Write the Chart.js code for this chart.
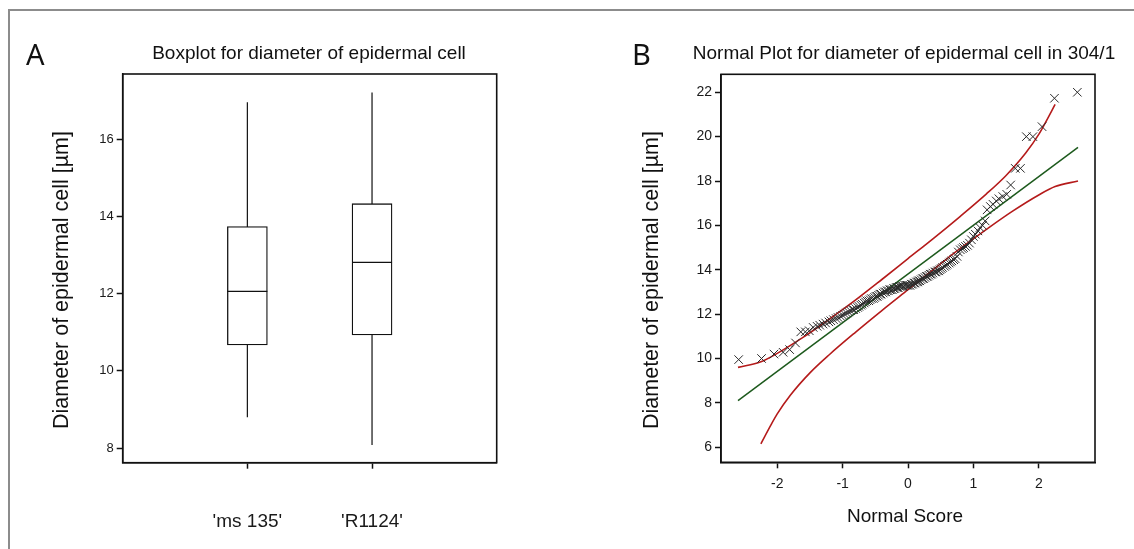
<!DOCTYPE html>
<html lang="en">
<head>
  <title>Diameter of epidermal cell</title>
  <meta charset="utf-8">
  <script src="https://cdn.jsdelivr.net/npm/chart.js@4.4.1/dist/chart.umd.min.js"></script>
  <style type="text/css">
    html, body { margin: 0; padding: 0; background: #fff; }
    #page { position: relative; width: 1134px; height: 549px; overflow: hidden; }
    #frame { position: absolute; left: 8px; top: 9px; width: 1200px; height: 600px;
             border-top: 2px solid #8c8c8c; border-left: 2px solid #8c8c8c; }
    canvas { position: absolute; top: 0; }
    #boxplot-canvas { left: 0; }
    #normal-canvas { left: 560px; }
  </style>
</head>
<body>
<div id="page">
  <div id="frame"></div>
  <canvas id="boxplot-canvas" width="560" height="549"></canvas>
  <canvas id="normal-canvas" width="574" height="549"></canvas>
</div>
<script type="text/javascript">
// --- panel A : boxplot values
var categories = ["'ms 135'", "'R1124'"];
var boxMin    = [8.80, 8.08];
var boxQ1     = [10.67, 10.93];
var boxMedian = [12.06, 12.81];
var boxQ3     = [13.74, 14.33];
var boxMax    = [16.96, 17.21];
var boxTicks  = [8, 10, 12, 14, 16];

// --- panel B : normal plot
var normalScore = [
  -2.59, -2.24, -2.05, -1.91, -1.81, -1.72, -1.64, -1.57, -1.51, -1.45,
  -1.39, -1.35, -1.30, -1.26, -1.21, -1.18, -1.14, -1.10, -1.07, -1.03,
  -1.00, -0.97, -0.94, -0.91, -0.88, -0.85, -0.83, -0.80, -0.77, -0.75,
  -0.72, -0.70, -0.67, -0.65, -0.63, -0.60, -0.58, -0.56, -0.53, -0.51,
  -0.49, -0.47, -0.45, -0.43, -0.41, -0.38, -0.36, -0.34, -0.32, -0.30,
  -0.28, -0.26, -0.24, -0.22, -0.20, -0.18, -0.16, -0.15, -0.13, -0.11,
  -0.09, -0.07, -0.05, -0.03, -0.01,
  0.01, 0.03, 0.05, 0.07, 0.09, 0.11, 0.13, 0.15, 0.16, 0.18,
  0.20, 0.22, 0.24, 0.26, 0.28, 0.30, 0.32, 0.34, 0.36, 0.38,
  0.41, 0.43, 0.45, 0.47, 0.49, 0.51, 0.53, 0.56, 0.58, 0.60,
  0.63, 0.65, 0.67, 0.70, 0.72, 0.75, 0.77, 0.80, 0.83, 0.85,
  0.88, 0.91, 0.94, 0.97, 1.00, 1.03, 1.07, 1.10, 1.14, 1.18,
  1.21, 1.26, 1.30, 1.35, 1.39, 1.45, 1.51, 1.57, 1.64, 1.72,
  1.81, 1.91, 2.05, 2.24, 2.59
];
var diameter = [
  9.95, 10.0, 10.2, 10.28, 10.4, 10.7, 11.2, 11.2, 11.25, 11.4,
  11.45, 11.5, 11.55, 11.6, 11.65, 11.7, 11.75, 11.8, 11.85, 11.9,
  11.95, 12.0, 12.05, 12.1, 12.15, 12.2, 12.2, 12.25, 12.3, 12.35,
  12.4, 12.45, 12.5, 12.55, 12.6, 12.6, 12.65, 12.7, 12.7, 12.75,
  12.8, 12.8, 12.85, 12.9, 12.9, 12.95, 13.0, 13.0, 13.05, 13.05,
  13.1, 13.1, 13.1, 13.15, 13.15, 13.2, 13.2, 13.2, 13.25, 13.25,
  13.25, 13.25, 13.3, 13.3, 13.3,
  13.3, 13.3, 13.35, 13.35, 13.4, 13.4, 13.45, 13.45, 13.5, 13.5,
  13.55, 13.6, 13.6, 13.65, 13.7, 13.7, 13.75, 13.8, 13.8, 13.85,
  13.9, 13.9, 13.95, 13.95, 14.0, 14.05, 14.1, 14.15, 14.2, 14.25,
  14.3, 14.35, 14.4, 14.45, 14.5, 14.6, 14.8, 14.9, 14.95, 15.0,
  15.05, 15.1, 15.2, 15.35, 15.5, 15.6, 15.75, 15.9, 16.0, 16.2,
  16.7, 16.85, 16.95, 17.1, 17.2, 17.3, 17.4, 17.82, 18.57, 18.57,
  20.0, 20.0, 20.45, 21.73, 22.0
];
var fitX = [-2.6, 2.6];
var fitY = [8.10, 19.52];
var upperX = [-2.6, -2.25, -2.0, -1.6, -1.2, -0.8, -0.4, 0, 0.4, 0.8, 1.2, 1.5, 1.8, 2.0, 2.1, 2.25];
var upperY = [9.60, 9.85, 10.23, 10.96, 11.78, 12.64, 13.56, 14.5, 15.44, 16.41, 17.42, 18.25, 19.26, 20.1, 20.62, 21.45];
var lowerX = [-2.25, -2.1, -2.0, -1.8, -1.5, -1.2, -0.8, -0.4, 0, 0.4, 0.8, 1.2, 1.6, 2.0, 2.25, 2.6];
var lowerY = [6.15, 6.98, 7.5, 8.34, 9.35, 10.18, 11.19, 12.16, 13.1, 14.04, 14.96, 15.82, 16.64, 17.37, 17.75, 18.0];
var normalXTicks = [-2, -1, 0, 1, 2];
var normalYTicks = [6, 8, 10, 12, 14, 16, 18, 20, 22];

Chart.defaults.font.family = '"Liberation Sans", Arial, sans-serif';
Chart.defaults.color = '#1a1a1a';
Chart.defaults.animation = false;

function pairs(xs, ys) {
  return xs.map(function(x, i) { return {x: x, y: ys[i]}; });
}

// titles, panel letter and plot frame
var panelText = {
  id: 'panelText',
  afterDraw: function(chart, args, o) {
    var ctx = chart.ctx, a = chart.chartArea;
    ctx.save();
    ctx.strokeStyle = '#111';
    ctx.lineWidth = 1.6;
    ctx.strokeRect(a.left, a.top, a.right - a.left, a.bottom - a.top);
    ctx.fillStyle = '#111';
    ctx.textBaseline = 'alphabetic';
    ctx.textAlign = 'left';
    ctx.font = '29px "Noto Sans", sans-serif';
    ctx.fillText(o.letter, o.letterX, 65);
    ctx.textBaseline = 'middle';
    ctx.textAlign = 'center';
    ctx.font = '19px "Liberation Sans", Arial, sans-serif';
    ctx.fillText(o.title, o.titleX, 54);
    if (o.xTitle) {
      ctx.font = '19px "Liberation Sans", Arial, sans-serif';
      ctx.fillText(o.xTitle, o.xTitleX, 517);
    }
    ctx.translate(o.yTitleX, 280);
    ctx.rotate(-Math.PI / 2);
    ctx.font = '21.5px "Liberation Sans", Arial, sans-serif';
    ctx.fillText(o.yTitle, 0, 0);
    ctx.restore();
  }
};

function axisGrid() {
  return {display: true, drawOnChartArea: false, drawTicks: true, tickLength: 6, tickWidth: 1.5, tickColor: '#111'};
}

// panel A
var boxDatasets = [{
  type: 'scatter',
  data: categories.map(function(c, i) { return {x: i + 1, y: boxMedian[i]}; }),
  pointStyle: 'line',
  pointRadius: 20,
  pointBorderWidth: 1.2,
  borderColor: '#111',
  order: 1
}, {
  type: 'bar',
  data: categories.map(function(c, i) { return {x: i + 1, y: [boxQ1[i], boxQ3[i]]}; }),
  backgroundColor: '#fff',
  borderColor: '#111',
  borderWidth: 1.3,
  borderSkipped: false,
  barThickness: 40,
  grouped: false,
  order: 2
}];
categories.forEach(function(c, i) {
  boxDatasets.push({
    type: 'line',
    data: [{x: i + 1, y: boxMin[i]}, {x: i + 1, y: boxMax[i]}],
    borderColor: '#111',
    borderWidth: 1.2,
    pointRadius: 0,
    order: 3
  });
});

new Chart(document.getElementById('boxplot-canvas'), {
  type: 'bar',
  data: {datasets: boxDatasets},
  plugins: [panelText],
  options: {
    responsive: false,
    layout: {padding: {left: 0, top: 74, right: 63.3, bottom: 0}},
    plugins: {
      legend: {display: false},
      tooltip: {enabled: false},
      panelText: {letter: 'A', letterX: 26, title: 'Boxplot for diameter of epidermal cell', titleX: 309,
                  yTitle: 'Diameter of epidermal cell [\u00b5m]', yTitleX: 62}
    },
    scales: {
      x: {
        type: 'linear', min: 0, max: 3, offset: false,
        grid: Object.assign(axisGrid(), {offset: false}),
        border: {display: true, color: '#111', width: 1.5},
        afterBuildTicks: function(s) { s.ticks = categories.map(function(c, i) { return {value: i + 1}; }); },
        afterFit: function(s) { s.height = 86.3; },
        ticks: {padding: 42, font: {size: 19}, maxRotation: 0, callback: function(v) { return categories[v - 1]; }}
      },
      y: {
        type: 'linear', min: 7.62, max: 17.69,
        grid: axisGrid(),
        border: {display: true, color: '#111', width: 1.5},
        afterBuildTicks: function(s) { s.ticks = boxTicks.map(function(v) { return {value: v}; }); },
        afterFit: function(s) { s.width = 122.7; },
        ticks: {padding: 3, font: {size: 13}}
      }
    }
  }
});

// panel B
new Chart(document.getElementById('normal-canvas'), {
  type: 'scatter',
  data: {
    datasets: [{
      data: pairs(normalScore, diameter),
      pointStyle: 'crossRot',
      pointRadius: 6,
      pointBorderWidth: 1,
      borderColor: '#2a2a2a',
      order: 1
    }, {
      type: 'line',
      data: pairs(fitX, fitY),
      borderColor: '#1d5a1d',
      borderWidth: 1.5,
      pointRadius: 0,
      order: 2
    }, {
      type: 'line',
      data: pairs(upperX, upperY),
      borderColor: '#b51b1b',
      borderWidth: 1.6,
      pointRadius: 0,
      cubicInterpolationMode: 'monotone',
      order: 3
    }, {
      type: 'line',
      data: pairs(lowerX, lowerY),
      borderColor: '#b51b1b',
      borderWidth: 1.6,
      pointRadius: 0,
      cubicInterpolationMode: 'monotone',
      order: 3
    }]
  },
  plugins: [panelText],
  options: {
    responsive: false,
    layout: {padding: {left: 0, top: 74.3, right: 39, bottom: 0}},
    plugins: {
      legend: {display: false},
      tooltip: {enabled: false},
      panelText: {letter: 'B', letterX: 72, title: 'Normal Plot for diameter of epidermal cell in 304/1', titleX: 344,
                  yTitle: 'Diameter of epidermal cell [\u00b5m]', yTitleX: 92, xTitle: 'Normal Score', xTitleX: 345}
    },
    scales: {
      x: {
        type: 'linear', min: -2.86, max: 2.86,
        grid: axisGrid(),
        border: {display: true, color: '#111', width: 1.5},
        afterBuildTicks: function(s) { s.ticks = normalXTicks.map(function(v) { return {value: v}; }); },
        afterFit: function(s) { s.height = 86.7; },
        ticks: {padding: 7, font: {size: 14}, maxRotation: 0}
      },
      y: {
        type: 'linear', min: 5.32, max: 22.81,
        grid: axisGrid(),
        border: {display: true, color: '#111', width: 1.5},
        afterBuildTicks: function(s) { s.ticks = normalYTicks.map(function(v) { return {value: v}; }); },
        afterFit: function(s) { s.width = 161; },
        ticks: {padding: 3, font: {size: 14}}
      }
    }
  }
});
</script>
</body>
</html>
